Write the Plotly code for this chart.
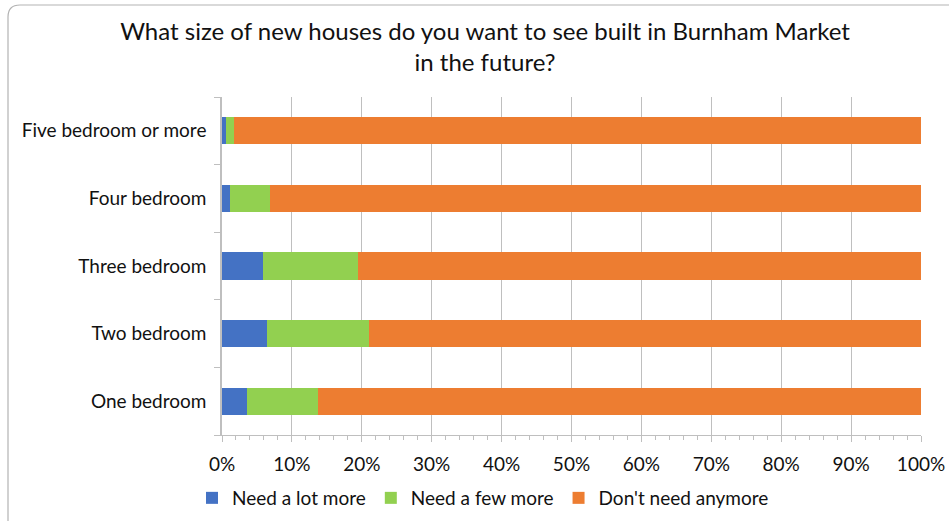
import plotly.graph_objects as go

categories = ["One bedroom", "Two bedroom", "Three bedroom", "Four bedroom", "Five bedroom or more"]
need_lot = [3.6, 6.5, 5.9, 1.1, 0.6]
need_few = [10.1, 14.5, 13.5, 5.7, 1.1]
dont_need = [round(100 - a - b, 1) for a, b in zip(need_lot, need_few)]
series_names = ["Need a lot more", "Need a few more", "Don't need anymore"]
colors = ["#4472C4", "#92D050", "#ED7D31"]
tick_vals = list(range(0, 101, 10))
tick_text = [f"{v}%" for v in tick_vals]

FONT = "Lato"
W, H = 949, 521
L, R, T, B = 222, 28, 97, 86

fig = go.Figure()
for name, vals, col in zip(series_names, [need_lot, need_few, dont_need], colors):
    fig.add_trace(go.Bar(y=categories, x=vals, name=name, orientation="h",
                         marker=dict(color=col, line=dict(width=0))))

pw = W - L - R
ph = H - T - B
def px(x): return (x - L) / pw
def py(y): return (H - B - y) / ph

fig.update_layout(
    width=W, height=H, barmode="stack", bargap=0.6,
    margin=dict(l=L, r=R, t=T, b=B, autoexpand=False),
    paper_bgcolor="white", plot_bgcolor="white",
    font=dict(family=FONT, size=19, color="#111111"),
    title=dict(text="What size of new houses do you want to see built in Burnham Market<br>in the future?",
               x=485 / W, xref="container", xanchor="center", y=1 - 40 / H, yanchor="middle",
               font=dict(family=FONT, size=24, color="#111111")),
    xaxis=dict(range=[0, 100], tickvals=tick_vals, ticktext=tick_text, automargin=False,
               showgrid=True, gridcolor="#bfbfbf", gridwidth=1,
               showline=True, linecolor="#bfbfbf", linewidth=1,
               ticks="outside", ticklen=6, tickcolor="#bfbfbf",
               minor=dict(dtick=2, ticks="outside", ticklen=4, tickcolor="#bfbfbf", showgrid=False),
               zeroline=False, fixedrange=True, ticklabelstandoff=6),
    yaxis=dict(categoryorder="array", categoryarray=categories, automargin=False,
               showline=True, linecolor="#bfbfbf", linewidth=1.5,
               ticks="outside", ticklen=6, tickcolor="#bfbfbf", tickson="boundaries",
               showgrid=False, zeroline=False, ticklabelstandoff=10),
    legend=dict(orientation="h", x=px(483), xanchor="center", y=py(498), yanchor="middle",
                font=dict(family=FONT, size=19), traceorder="normal", itemwidth=30),
    showlegend=True,
)
path = (f"M {px(8)},{py(540)} L {px(8)},{py(17)} "
        f"Q {px(8)},{py(5)} {px(20)},{py(5)} L {px(980)},{py(5)}")
fig.add_shape(type="path", xref="paper", yref="paper", path=path,
              line=dict(color="#b3b3b3", width=1.2), layer="below")

fig.write_html("out.html", config={"displayModeBar": False},
               post_script="document.body.style.margin='0';document.body.style.overflow='hidden';")
